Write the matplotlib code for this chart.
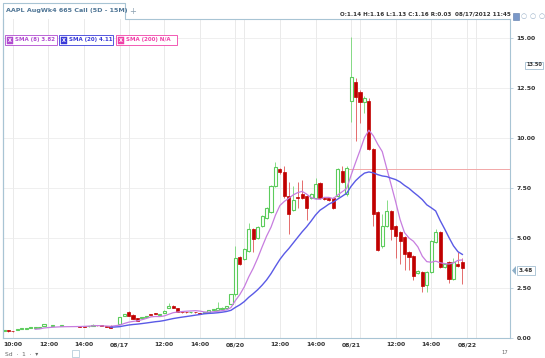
import numpy as np
import pandas as pd
import matplotlib
matplotlib.use("Agg")
import matplotlib.pyplot as plt
from matplotlib.patches import Rectangle, Polygon

# 15-minute bars, index 0 = 08/16 09:30, 26 bars per session
bars = ([0, 1, 2, 3, 4, 5, 6, 7, 8, 9, 11, 13, 17, 18, 19, 20, 21, 22, 23, 24]
        + list(range(26, 104)))

opens = [0.35, 0.37, 0.35, 0.40, 0.45, 0.47, 0.50, 0.50, 0.52, 0.60, 0.62, 0.62, 0.58, 0.57, 0.58, 0.60, 0.64, 0.60, 0.58, 0.62,
         0.70, 1.10, 1.28, 1.15, 1.00, 1.00, 1.06, 1.16, 1.22, 1.14, 1.26, 1.50, 1.62, 1.50, 1.30, 1.29, 1.28, 1.29, 1.26, 1.27, 1.30, 1.40, 1.42, 1.45, 1.50, 1.70,
         2.20, 4.05, 3.95, 4.35, 5.45, 5.00, 5.60, 6.00, 6.30, 7.60, 8.45, 8.30, 7.10, 6.40, 7.05, 7.20, 7.10, 7.00, 7.00, 7.75, 7.00, 7.00, 7.00, 7.10, 8.35, 7.20,
         11.85, 12.80, 12.30, 11.80, 11.85, 9.45, 6.30, 4.60, 5.60, 6.35, 5.60, 5.30, 5.05, 4.30, 4.10, 3.25, 3.30, 2.65, 3.30, 4.80, 5.30, 3.55, 3.80, 2.95, 3.70, 3.80]
highs = [0.40, 0.38, 0.36, 0.46, 0.48, 0.51, 0.51, 0.53, 0.56, 0.72, 0.64, 0.64, 0.58, 0.58, 0.60, 0.68, 0.65, 0.61, 0.59, 0.63,
         1.07, 1.22, 1.35, 1.18, 1.02, 1.06, 1.09, 1.17, 1.23, 1.16, 1.38, 1.75, 1.64, 1.52, 1.31, 1.30, 1.30, 1.30, 1.27, 1.29, 1.41, 1.46, 1.80, 1.53, 1.62, 2.22,
         4.60, 4.10, 4.50, 5.75, 5.50, 5.60, 6.15, 6.55, 7.65, 8.80, 8.50, 8.60, 7.80, 7.60, 7.80, 7.90, 7.15, 7.25, 8.00, 7.80, 7.05, 7.05, 7.05, 8.50, 8.60, 8.60,
         15.05, 13.00, 12.40, 12.10, 12.00, 9.50, 6.35, 6.20, 6.90, 6.40, 5.65, 5.35, 5.10, 4.35, 4.15, 3.40, 3.35, 3.35, 4.90, 5.45, 5.35, 3.75, 3.85, 4.00, 4.30, 4.00]
lows = [0.33, 0.32, 0.32, 0.40, 0.44, 0.47, 0.49, 0.50, 0.52, 0.60, 0.61, 0.61, 0.55, 0.55, 0.57, 0.60, 0.62, 0.58, 0.56, 0.50,
        0.68, 1.08, 1.10, 0.95, 0.85, 0.98, 1.05, 1.13, 1.18, 1.13, 1.25, 1.48, 1.50, 1.30, 1.27, 1.27, 1.27, 1.27, 1.19, 1.26, 1.29, 1.39, 1.41, 1.44, 1.49, 1.68,
        2.10, 3.65, 3.90, 4.30, 4.30, 4.95, 5.55, 5.95, 6.25, 7.55, 8.20, 7.00, 5.20, 6.35, 6.50, 6.95, 5.90, 6.95, 6.95, 6.95, 6.90, 6.85, 6.45, 7.05, 7.75, 7.10,
        10.80, 9.85, 10.75, 11.25, 9.40, 5.60, 4.35, 4.50, 5.55, 4.90, 4.00, 3.70, 3.40, 3.40, 2.90, 3.20, 2.30, 2.30, 3.25, 4.75, 3.50, 3.50, 2.75, 2.90, 3.55, 2.70]
closes = [0.38, 0.34, 0.33, 0.45, 0.47, 0.50, 0.50, 0.52, 0.55, 0.70, 0.63, 0.63, 0.56, 0.56, 0.59, 0.66, 0.63, 0.59, 0.57, 0.52,
          1.03, 1.20, 1.12, 0.97, 0.87, 1.04, 1.08, 1.14, 1.19, 1.16, 1.37, 1.62, 1.51, 1.31, 1.28, 1.28, 1.29, 1.28, 1.20, 1.28, 1.40, 1.45, 1.52, 1.52, 1.60, 2.20,
          4.02, 3.70, 4.45, 5.45, 4.95, 5.55, 6.10, 6.50, 7.60, 8.55, 8.30, 7.10, 6.20, 6.90, 7.00, 7.00, 6.50, 7.20, 7.70, 7.00, 6.95, 6.90, 6.50, 8.45, 7.80, 8.50,
          13.05, 12.05, 11.80, 12.00, 9.45, 6.20, 4.40, 5.60, 6.35, 5.45, 5.10, 4.85, 4.20, 4.05, 3.10, 3.35, 2.60, 3.30, 4.85, 5.30, 3.55, 3.70, 2.95, 3.80, 3.60, 3.48]

tick_bars = [2, 10, 18, 26, 36, 44, 52, 62, 70, 78, 88, 96, 104]
tick_labels = ["10:00", "12:00", "14:00", "08/17", "12:00", "14:00", "08/20",
               "12:00", "14:00", "08/21", "12:00", "14:00", "08/22"]
grid_bars = [2, 10, 18, 26, 28, 36, 44, 52, 54, 62, 70, 78, 80, 88, 96, 104, 106]
price_ticks = [0, 2.5, 5, 7.5, 10, 12.5, 15]
alert_level = 8.45

W, H = 545, 358


def fx(x):
    return x / W


def fy(y):
    return 1 - y / H


df = pd.DataFrame({"o": opens, "h": highs, "l": lows, "c": closes}, index=bars)
sma8 = df["c"].rolling(8).mean()
sma20 = df["c"].rolling(20).mean()

fig = plt.figure(figsize=(W / 100, H / 100), dpi=100)
ax = fig.add_axes([fx(3), fy(338), fx(510) - fx(3), fy(19) - fy(338)])
ax.set_xlim(-0.22, 113.7)
ax.set_ylim(0, 15.95)

for b in grid_bars:
    ax.axvline(b, color="#e6e6e6", lw=0.6, zorder=0)
for p in price_ticks[1:]:
    ax.axhline(p, color="#ececec", lw=0.6, zorder=0)

up = df["c"] >= df["o"]
green, green_w = "#5ccc5c", "#74d874"
red, red_w = "#c00000", "#e05555"

ax.vlines(df.index[up], df["l"][up], df["h"][up], color=green_w, lw=0.6, zorder=2)
ax.vlines(df.index[~up], df["l"][~up], df["h"][~up], color=red_w, lw=0.6, zorder=2)

body_lo = np.minimum(df["o"], df["c"])
body_h = np.maximum(np.abs(df["c"] - df["o"]), 0.04)
ax.bar(df.index[up], body_h[up], bottom=body_lo[up], width=0.7,
       facecolor="white", edgecolor=green, lw=0.8, zorder=3)
ax.bar(df.index[~up], body_h[~up], bottom=body_lo[~up], width=0.7,
       facecolor=red, edgecolor=red, lw=0.5, zorder=3)

ax.plot(sma8.index, sma8.values, color="#c77ddf", lw=0.9, zorder=4)
ax.plot(sma20.index, sma20.values, color="#5a5ae6", lw=1.0, zorder=4)

ax.plot([77.5, 113.7], [alert_level, alert_level], color="#f2a8a8", lw=0.7, zorder=1)

ax.set_xticks(tick_bars)
ax.set_xticklabels(tick_labels)
ax.set_yticks(price_ticks)
ax.set_yticklabels([f"{p:.2f}" for p in price_ticks])
ax.yaxis.tick_right()
ax.tick_params(axis="x", length=0, pad=3, labelsize=4.4, labelcolor="#333333")
ax.tick_params(axis="y", length=2.5, width=0.5, color="#a8c4d4", pad=2,
               labelsize=4.4, labelcolor="#333333")
for lab in ax.get_xticklabels() + ax.get_yticklabels():
    lab.set_fontweight("bold")

for side in ["left", "bottom", "right"]:
    ax.spines[side].set_color("#a8c4d4")
    ax.spines[side].set_linewidth(0.8)
ax.spines["top"].set_visible(False)

# tab and top border
fig.add_artist(plt.Line2D([fx(3), fx(3), fx(125), fx(125), fx(510)],
                          [fy(338), fy(3), fy(3), fy(19), fy(19)],
                          color="#a8c4d4", lw=0.8))
fig.text(fx(6), fy(10.5), "AAPL AugWk4 665 Call (5D - 15M)", fontsize=4.6,
         color="#4f7595", fontweight="bold", va="center")
fig.text(fx(133), fy(11), "+", fontsize=6, color="#8aa0b0", ha="center", va="center")

fig.text(fx(340), fy(14), "O:1.14 H:1.16 L:1.13 C:1.16 R:0.03", fontsize=4.1,
         color="#333333", fontweight="bold", va="center")
fig.text(fx(455), fy(14), "08/17/2012 11:45", fontsize=4.1,
         color="#333333", fontweight="bold", va="center")

# toolbar icons
fig.add_artist(Rectangle((fx(513), fy(20)), fx(6), fy(13) - fy(20),
                         facecolor="#7a98c8", edgecolor="#5a78a8", lw=0.4))
for cx in [524, 533, 542]:
    fig.text(fx(cx), fy(16.5), "\u25CB", fontsize=5, color="#9ab0c8",
             ha="center", va="center")

# legend boxes
legend = [("SMA (8) 3.82", "#b04ad0", 5, 57),
          ("SMA (20) 4.11", "#3a3ad8", 59, 113),
          ("SMA (200) N/A", "#f040a8", 116, 177)]
for text, col, x0, x1 in legend:
    fig.add_artist(Rectangle((fx(x0), fy(45)), fx(x1 - x0), fy(35) - fy(45),
                             facecolor="white", edgecolor=col, lw=0.6, zorder=5))
    fig.add_artist(Rectangle((fx(x0 + 1.5), fy(43.5)), fx(6), fy(36.5) - fy(43.5),
                             facecolor=col, edgecolor=col, lw=0.3, zorder=6))
    fig.text(fx(x0 + 4.5), fy(40), "X", fontsize=3.6, color="white",
             fontweight="bold", ha="center", va="center", zorder=7)
    fig.text(fx(x0 + 10), fy(40), text, fontsize=4.0, color=col,
             fontweight="bold", va="center", zorder=7)

# price labels on the right
fig.text(fx(526), fy(65), "13.50", fontsize=3.6, color="#333333",
         fontweight="bold", va="center",
         bbox=dict(boxstyle="square,pad=0.2", facecolor="white",
                   edgecolor="#8fb0c8", lw=0.5))
fig.add_artist(Polygon([[fx(512), fy(270.5)], [fx(516), fy(266)], [fx(516), fy(275)]],
                       closed=True, facecolor="#8fb0c8", edgecolor="none"))
fig.text(fx(519), fy(270.5), "3.48", fontsize=4.1, color="#333333",
         fontweight="bold", va="center",
         bbox=dict(boxstyle="square,pad=0.3", facecolor="white",
                   edgecolor="#8fb0c8", lw=0.5))

# controls along the bottom edge
fig.text(fx(5), fy(354), "Sd  \u00B7  1  \u00B7  \u25BE", fontsize=4.3, color="#666666", va="center")
fig.add_artist(Rectangle((fx(72), fy(357)), fx(7), fy(350) - fy(357),
                         facecolor="none", edgecolor="#a8c4d4", lw=0.5))
fig.text(fx(505), fy(353), "17", fontsize=3.8, color="#666666", ha="center", va="center")

fig.savefig("out.png", dpi=100)
